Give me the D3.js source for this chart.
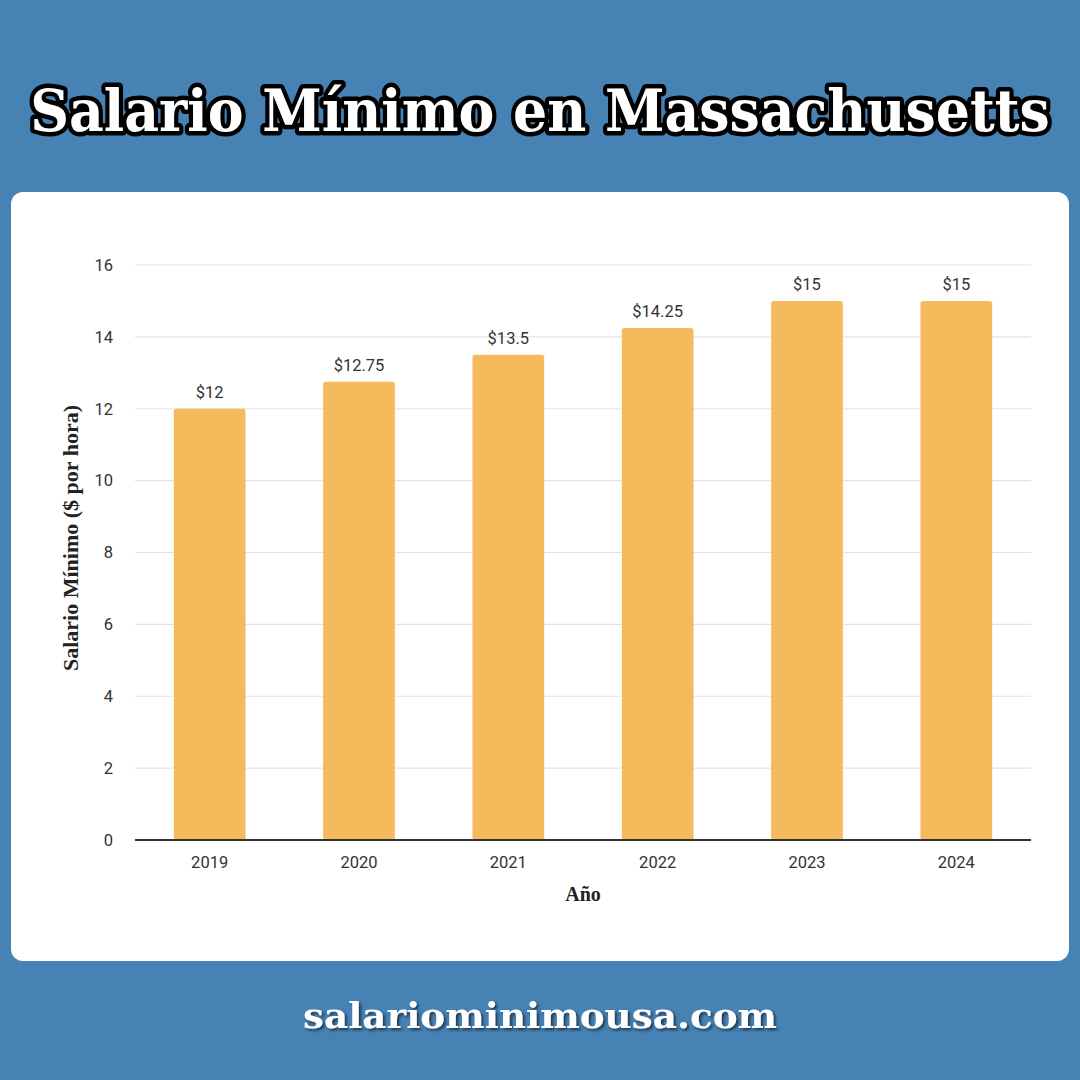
<!DOCTYPE html>
<html><head><meta charset="utf-8">
<script src="https://cdn.jsdelivr.net/npm/d3@7"></script>
<style>html,body{margin:0;padding:0;background:#4682B4;}svg{display:block}</style>
</head><body>
<svg id="c" width="1080" height="1080"></svg>
<script>
const years = ["2019","2020","2021","2022","2023","2024"];
const wages = [12, 12.75, 13.5, 14.25, 15, 15];
const wageLabels = ["$12","$12.75","$13.5","$14.25","$15","$15"];
const yTicks = [0,2,4,6,8,10,12,14,16];

const svg = d3.select("#c");
svg.append("rect").attr("width",1080).attr("height",1080).attr("fill","#4682B4");

// Title (fit horizontally with a scale transform)
const tg = svg.append("g");
const title = tg.append("text").attr("x",0).attr("y",0).attr("text-anchor","middle")
  .attr("font-family","'DejaVu Serif', 'Liberation Serif', serif").attr("font-weight","bold")
  .attr("font-size",57).attr("fill","#fff").attr("stroke","#000").attr("stroke-width",9)
  .attr("stroke-linejoin","round").attr("paint-order","stroke")
  .text("Salario Mínimo en Massachusetts");
const tLen = title.node().getComputedTextLength();
const sx = Math.min(1, 1020 / tLen);
tg.attr("transform",`translate(540,131) scale(${sx},1)`);

// Panel
svg.append("rect").attr("x",11).attr("y",192).attr("width",1058).attr("height",769)
  .attr("rx",12).attr("fill","#fff");

const x = d3.scaleBand().domain(years).range([135,1031]).paddingInner(0.52).paddingOuter(0.26);
const y = d3.scaleLinear().domain([0,16]).range([840,265]);

// grid
svg.append("g").selectAll("line").data(yTicks.filter(d=>d>0)).join("line")
  .attr("x1",135).attr("x2",1031).attr("y1",d=>y(d)).attr("y2",d=>y(d))
  .attr("stroke","#e3e3e3").attr("stroke-width",1.2);

// y axis labels
const yAxis = d3.axisLeft(y).tickValues(yTicks).tickSize(0).tickPadding(0).tickFormat(d3.format("d"));
const ga = svg.append("g").attr("transform","translate(113,0)").call(yAxis);
ga.select(".domain").remove();
ga.selectAll("text").attr("font-family","Roboto, sans-serif").attr("font-size",16.5).attr("fill","#333");

// bars
svg.append("g").selectAll("path").data(years).join("path")
  .attr("d",(d,i)=>{
    const x0=x(d), w=x.bandwidth(), y0=y(wages[i]), b=y(0), r=2.5;
    return `M${x0},${b}V${y0+r}Q${x0},${y0} ${x0+r},${y0}H${x0+w-r}Q${x0+w},${y0} ${x0+w},${y0+r}V${b}Z`;
  }).attr("fill","#F5BA5C");

// value labels
svg.append("g").selectAll("text").data(years).join("text")
  .attr("x",d=>x(d)+x.bandwidth()/2).attr("y",(d,i)=>y(wages[i])-11)
  .attr("text-anchor","middle").attr("font-family","Roboto, sans-serif").attr("font-size",16.5)
  .attr("fill","#333").text((d,i)=>wageLabels[i]);

// x axis
const xAxis = d3.axisBottom(x).tickSize(0).tickPadding(16);
const gx = svg.append("g").attr("transform","translate(0,840)").call(xAxis);
gx.select(".domain").remove();
gx.selectAll("text").attr("font-family","Roboto, sans-serif").attr("font-size",16.5).attr("fill","#333");
svg.append("line").attr("x1",135).attr("x2",1031).attr("y1",840).attr("y2",840)
  .attr("stroke","#333").attr("stroke-width",2);

// axis titles
svg.append("text").attr("x",583).attr("y",901).attr("text-anchor","middle")
  .attr("font-family","'Liberation Serif', serif").attr("font-weight","bold").attr("font-size",20)
  .attr("fill","#222").text("Año");
svg.append("text").attr("transform","translate(78,538) rotate(-90)").attr("text-anchor","middle")
  .attr("font-family","'Liberation Serif', serif").attr("font-weight","bold").attr("font-size",20)
  .attr("fill","#222").attr("textLength",266).attr("lengthAdjust","spacingAndGlyphs")
  .text("Salario Mínimo ($ por hora)");

// footer
const defs = svg.append("defs");
const f = defs.append("filter").attr("id","sh").attr("x","-10%").attr("y","-30%").attr("width","120%").attr("height","160%");
f.append("feDropShadow").attr("dx",2).attr("dy",2).attr("stdDeviation",1.5).attr("flood-color","#000").attr("flood-opacity",0.6);
svg.append("text").attr("x",540).attr("y",1028).attr("text-anchor","middle")
  .attr("font-family","'DejaVu Serif', serif").attr("font-weight","bold").attr("font-size",36)
  .attr("fill","#fff").attr("filter","url(#sh)")
  .attr("textLength",474).attr("lengthAdjust","spacingAndGlyphs")
  .text("salariominimousa.com");
</script>
</body></html>
